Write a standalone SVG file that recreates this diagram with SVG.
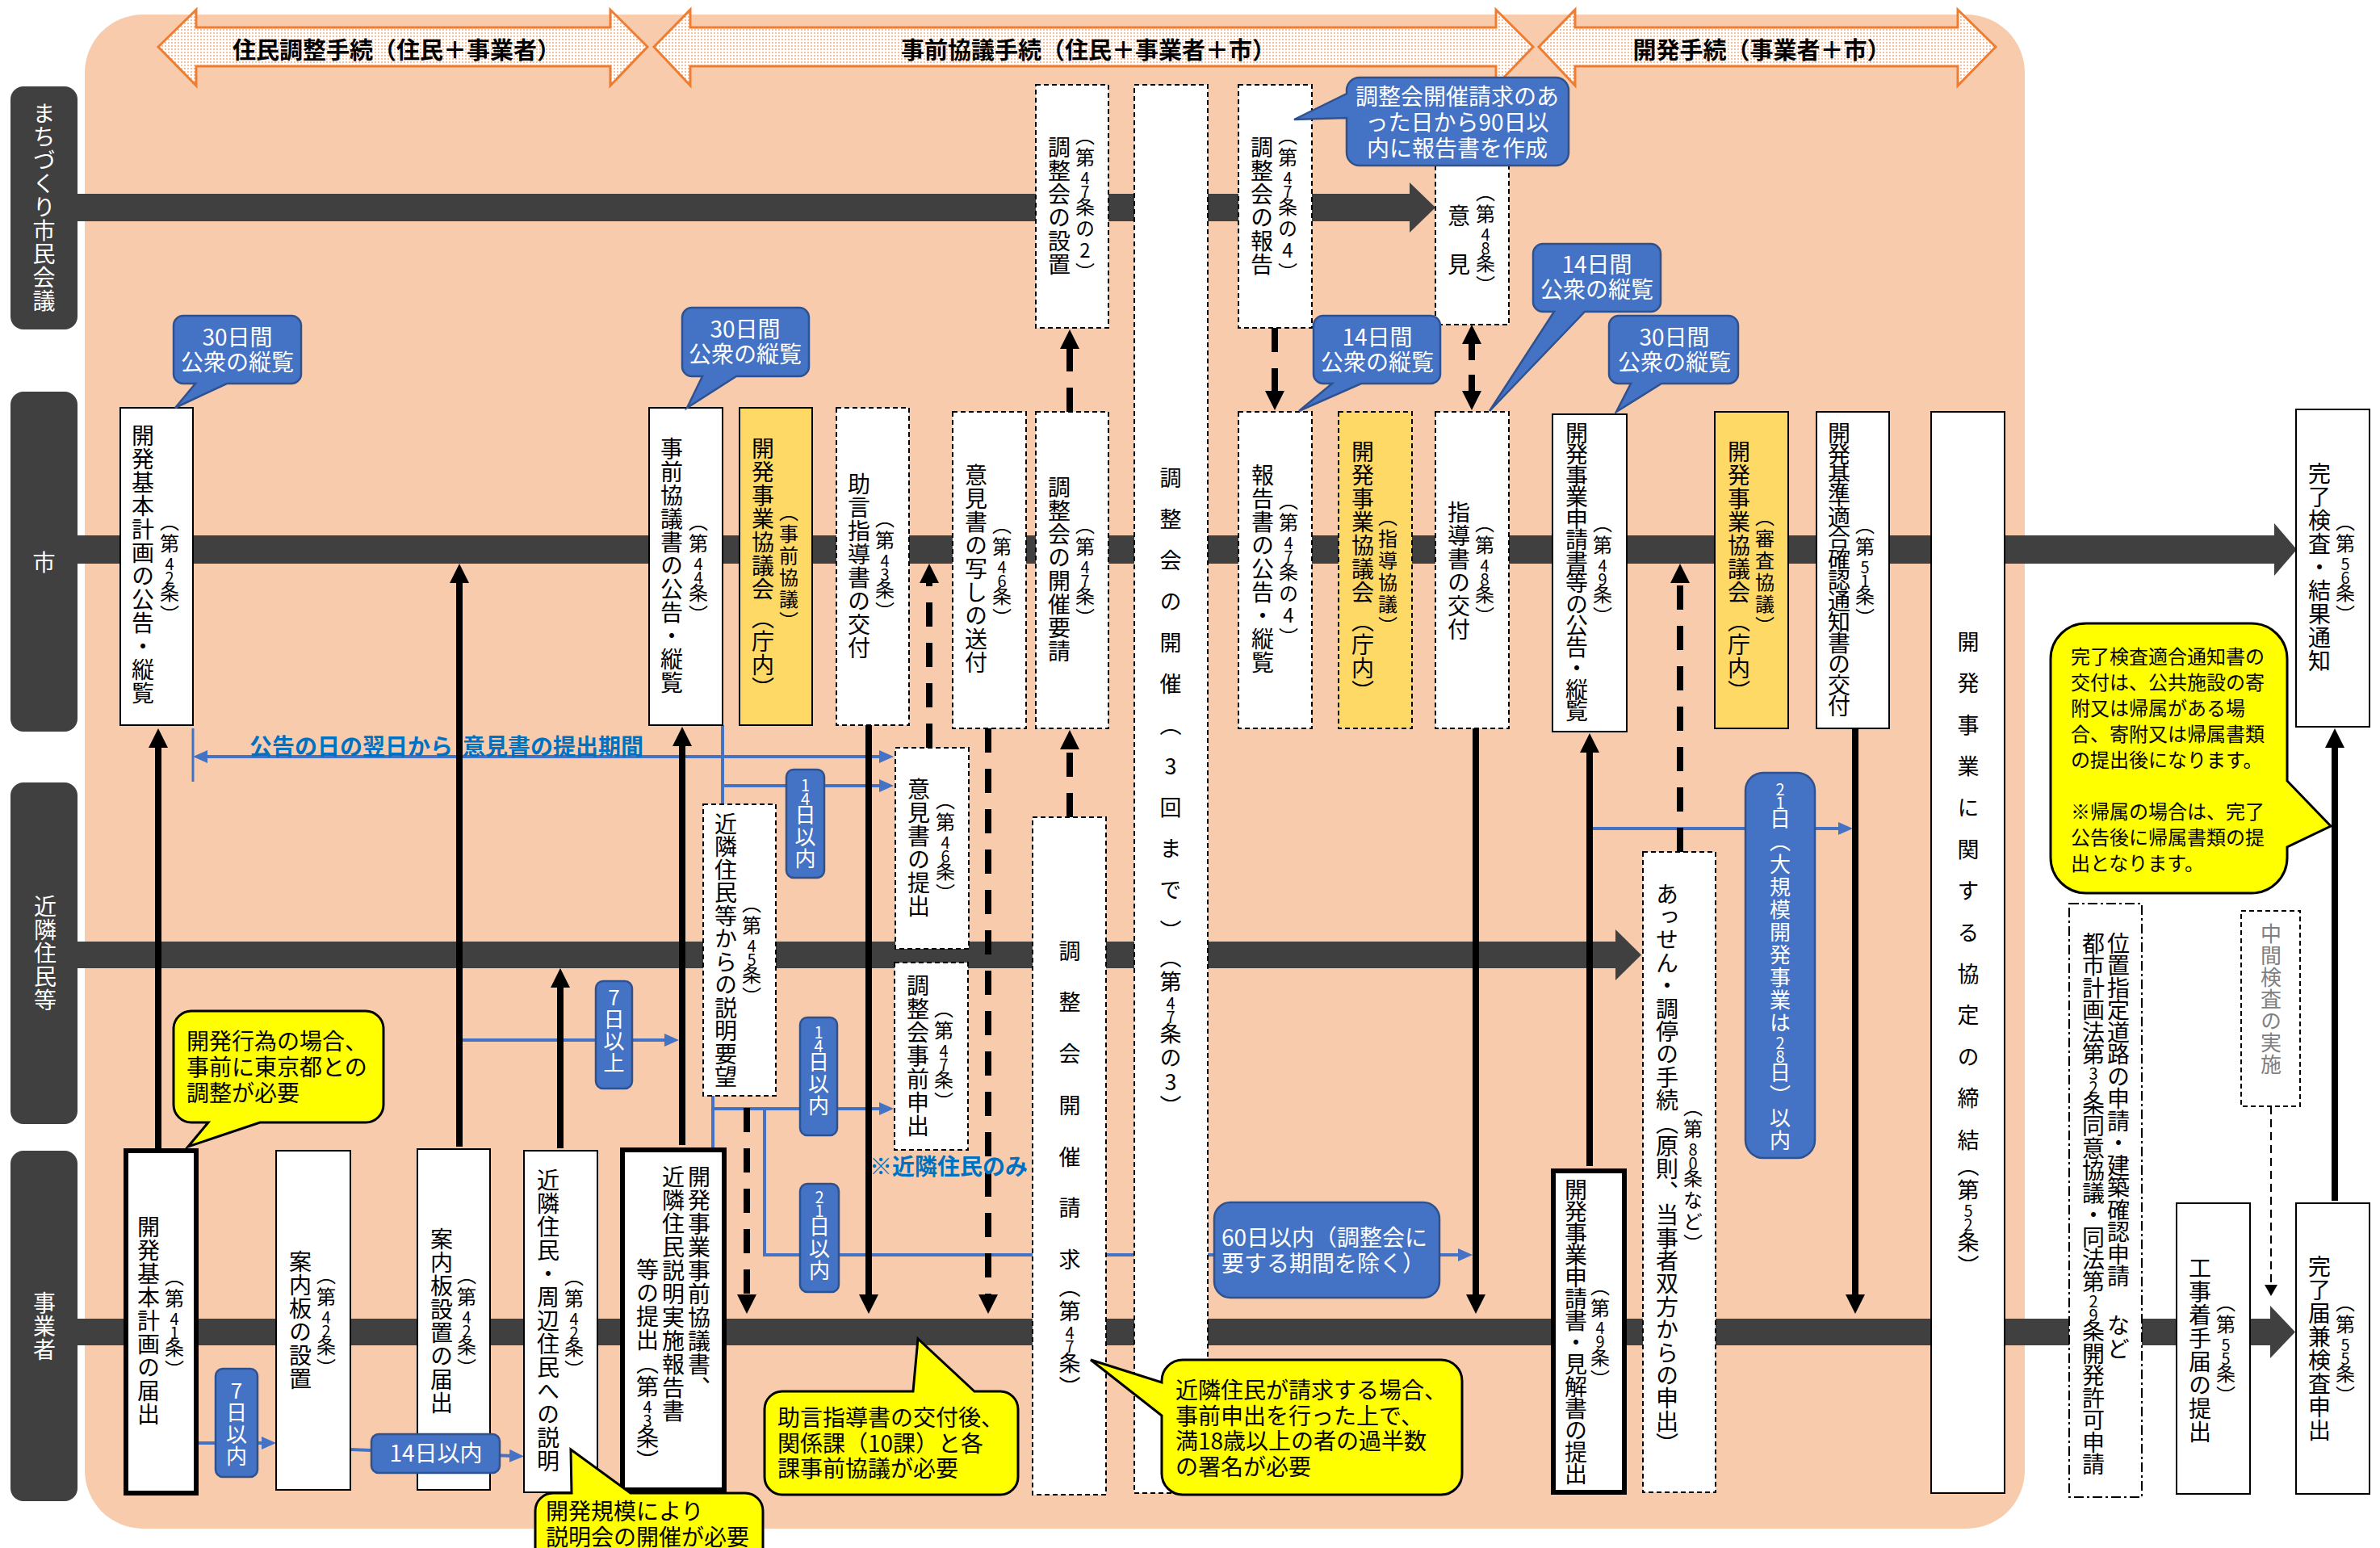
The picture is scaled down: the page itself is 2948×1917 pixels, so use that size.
<svg xmlns="http://www.w3.org/2000/svg" width="2948" height="1917" viewBox="0 0 2948 1917">
<defs>
<style>
.t{font-family:"Noto Sans CJK JP","Noto Sans CJK SC",sans-serif}
.v{writing-mode:vertical-rl;text-orientation:upright}
.m{font-size:28px;letter-spacing:1px}
.a{font-size:24px;letter-spacing:3px}
.dg{font-size:20px;letter-spacing:-3px}
.w{fill:#fff}
.lab{fill:#404040}
.lt{font-size:28px;letter-spacing:1px;fill:#fff}
.bar{fill:#404040}
.hd{fill:url(#dots);stroke:#ED7D31;stroke-width:3}
.ht{font-size:29px;font-weight:700;fill:#000}
.box{fill:#fff;stroke:#000;stroke-width:2}
.dbox{fill:#fff;stroke:#000;stroke-width:2;stroke-dasharray:6 4}
.tbox{fill:#fff;stroke:#000;stroke-width:6}
.ybox{fill:#FFD966;stroke:#000;stroke-width:2}
.ydbox{fill:#FFD966;stroke:#000;stroke-width:2;stroke-dasharray:6 4}
.ddbox{fill:#fff;stroke:#000;stroke-width:2;stroke-dasharray:12 4 3 4}
.ka{fill:none;stroke:#000;stroke-width:8;marker-end:url(#ha)}
.kd{fill:none;stroke:#000;stroke-width:8;stroke-dasharray:30 20;marker-end:url(#ha)}
.bl{fill:none;stroke:#4472C4;stroke-width:4}
.be{marker-end:url(#hb)}
.bc{fill:#4472C4;stroke:#2F528F;stroke-width:2.5}
.yc{fill:#FFFF00;stroke:#000;stroke-width:3}
.ct{font-size:28px}
.cs{font-size:24px}
.vl{font-size:26px;letter-spacing:1px;fill:#fff}
.bt{font-size:28px;font-weight:700;fill:#0070C0}
</style>
<pattern id="dots" width="4" height="4" patternUnits="userSpaceOnUse"><rect width="4" height="4" fill="#fff"/><rect width="2" height="2" fill="#F6C09C"/></pattern>
<marker id="ha" markerUnits="userSpaceOnUse" markerWidth="24" markerHeight="24" viewBox="0 0 24 24" refX="6" refY="12" orient="auto-start-reverse"><path d="M0,0 L24,12 L0,24 z" fill="#000"/></marker>
<marker id="hb" markerUnits="userSpaceOnUse" markerWidth="18" markerHeight="16" viewBox="0 0 18 16" refX="5" refY="8" orient="auto-start-reverse" preserveAspectRatio="none"><path d="M0,0 L18,8 L0,16 z" fill="#4472C4"/></marker>
<marker id="hs" markerUnits="userSpaceOnUse" markerWidth="14" markerHeight="16" viewBox="0 0 14 16" refX="2" refY="8" orient="auto" preserveAspectRatio="none"><path d="M0,0 L14,8 L0,16 z" fill="#000"/></marker>
</defs>

<rect x="0" y="0" width="2948" height="1917" fill="#fff"/>
<rect id="background" x="105" y="18" width="2403" height="1875" rx="72" fill="#F8CBAD"/>

<g id="phases">
<g id="phase-1"><polygon class="hd" points="196,58 243,12 243,34 756,34 756,12 802,58 756,106 756,82 243,82 243,106"/><text class="t ht" x="491" y="73" text-anchor="middle">住民調整手続（住民＋事業者）</text></g>
<g id="phase-2"><polygon class="hd" points="810,58 855,12 855,34 1853,34 1853,12 1899,58 1853,106 1853,82 855,82 855,106"/><text class="t ht" x="1348" y="73" text-anchor="middle">事前協議手続（住民＋事業者＋市）</text></g>
<g id="phase-3"><polygon class="hd" points="1906,58 1951,12 1951,34 2425,34 2425,12 2472,58 2425,106 2425,82 1951,82 1951,106"/><text class="t ht" x="2182" y="73" text-anchor="middle">開発手続（事業者＋市）</text></g>
</g>

<g id="lanes">
<g id="lane-machizukuri"><rect class="lab" x="13" y="107" width="83" height="301" rx="16"/><rect class="bar" x="90" y="240" width="1656" height="34"/><polygon class="bar" points="1746,226 1778,257 1746,288"/><text class="t v lt" x="54.5" y="126">まちづくり市民会議</text></g>
<g id="lane-shi"><rect class="lab" x="13" y="485" width="83" height="421" rx="16"/><rect class="bar" x="90" y="663" width="2727" height="35"/><polygon class="bar" points="2817,648 2845,680.5 2817,713"/><text class="t v lt" x="54.5" y="682">市</text></g>
<g id="lane-kinrin"><rect class="lab" x="13" y="969" width="83" height="423" rx="16"/><rect class="bar" x="90" y="1166" width="1911" height="33"/><polygon class="bar" points="2001,1151 2033,1182.5 2001,1214"/><text class="t v lt" x="56" y="1108">近隣住民等</text></g>
<g id="lane-jigyosha"><rect class="lab" x="13" y="1425" width="83" height="434" rx="16"/><rect class="bar" x="90" y="1633" width="2722" height="33"/><polygon class="bar" points="2812,1617 2843,1649.5 2812,1682"/><text class="t v lt" x="55" y="1599">事業者</text></g>
</g>

<g id="connectors">
<line class="bl" x1="239" y1="902" x2="239" y2="968" style="stroke-width:3"/>
<line class="bl" x1="252" y1="937" x2="1094" y2="937" style="marker-start:url(#hb);marker-end:url(#hb)"/>
<path class="bl be" d="M895,898 V996 M895,973 H1094"/>
<path class="bl be" d="M883,1357 V1422 M883,1373 H1094"/>
<path class="bl be" d="M947,1373 V1554 H1811"/>
<path class="bl be" d="M569,1288 H828"/>
<path class="bl be" d="M246,1787 H329"/>
<path class="bl be" d="M434,1795 L636,1803"/>
<path class="bl be" d="M1973,1026 H2282"/>

<line class="ka" x1="196" y1="1422" x2="196" y2="920"/>
<line class="ka" x1="569" y1="1420" x2="569" y2="716"/>
<line class="ka" x1="694" y1="1422" x2="694" y2="1217"/>
<line class="ka" x1="845" y1="1418" x2="845" y2="918"/>
<line class="ka" x1="1076" y1="898" x2="1076" y2="1609"/>
<line class="ka" x1="1828" y1="902" x2="1828" y2="1609"/>
<line class="ka" x1="1969" y1="1444" x2="1969" y2="926"/>
<line class="ka" x1="2298" y1="902" x2="2298" y2="1609"/>
<line class="ka" x1="2892" y1="1487" x2="2892" y2="920"/>

<line class="kd" x1="925" y1="1372" x2="925" y2="1609"/>
<line class="kd" x1="1151" y1="926" x2="1151" y2="716"/>
<line class="kd" x1="1224" y1="902" x2="1224" y2="1609"/>
<line class="kd" x1="1325" y1="1012" x2="1325" y2="922"/>
<line class="kd" x1="1325" y1="510" x2="1325" y2="426"/>
<line class="kd" x1="1579" y1="406" x2="1579" y2="490"/>
<line class="kd" x1="1823" y1="420" x2="1823" y2="490" style="marker-start:url(#ha);stroke-dasharray:26 18"/>
<line class="kd" x1="2081" y1="1055" x2="2081" y2="716"/>
<line x1="2813" y1="1370" x2="2813" y2="1593" style="stroke:#000;stroke-width:2;stroke-dasharray:10 6;marker-end:url(#hs)"/>
</g>

<g id="n-kihon-koukoku"><rect class="box" x="149" y="505" width="90" height="393"/><text class="t v"><tspan class="m" x="177" y="525">開発基本計画の公告・縦覧</tspan><tspan class="a" x="210" y="634">（第<tspan class="dg">42</tspan>条）</tspan></text></g>
<g id="n-jizen-koukoku"><rect class="box" x="804" y="505" width="91" height="393"/><text class="t v"><tspan class="m" x="832" y="541">事前協議書の公告・縦覧</tspan><tspan class="a" x="865" y="634">（第<tspan class="dg">44</tspan>条）</tspan></text></g>
<g id="n-kyougikai-jizen"><rect class="ybox" x="916" y="505" width="90" height="393"/><text class="t v"><tspan class="m" x="945" y="541">開発事業協議会</tspan><tspan class="a" x="977" y="622">（事前協議）</tspan><tspan class="m" x="945" y="751">（庁内）</tspan></text></g>
<g id="n-jogen"><rect class="dbox" x="1036" y="505" width="90" height="393"/><text class="t v"><tspan class="m" x="1064" y="585">助言指導書の交付</tspan><tspan class="a" x="1096" y="630">（第<tspan class="dg">43</tspan>条）</tspan></text></g>
<g id="n-utsushi"><rect class="dbox" x="1180" y="510" width="91" height="392"/><text class="t v"><tspan class="m" x="1209" y="574">意見書の写しの送付</tspan><tspan class="a" x="1241" y="638">（第<tspan class="dg">46</tspan>条）</tspan></text></g>
<g id="n-kaisai-yousei"><rect class="dbox" x="1283" y="510" width="90" height="392"/><text class="t v"><tspan class="m" x="1312" y="589">調整会の開催要請</tspan><tspan class="a" x="1344" y="638">（第<tspan class="dg">47</tspan>条）</tspan></text></g>
<g id="n-kaisai"><rect class="dbox" x="1405" y="105" width="91" height="1744"/><text class="t v"><tspan x="1450" y="578" style="font-size:27px;letter-spacing:24px">調整会の開催（3回まで）</tspan><tspan x="1450" y="1172" style="font-size:27px;letter-spacing:3px">（第<tspan class="dg">47</tspan>条の3）</tspan></text></g>
<g id="n-houkoku-koukoku"><rect class="dbox" x="1534" y="510" width="91" height="392"/><text class="t v"><tspan class="m" x="1564" y="574">報告書の公告・縦覧</tspan><tspan class="a" x="1596" y="608">（第<tspan class="dg">47</tspan>条の4）</tspan></text></g>
<g id="n-kyougikai-shidou"><rect class="ydbox" x="1658" y="510" width="91" height="392"/><text class="t v"><tspan class="m" x="1688" y="545">開発事業協議会</tspan><tspan class="a" x="1719" y="628">（指導協議）</tspan><tspan class="m" x="1688" y="755">（庁内）</tspan></text></g>
<g id="n-shidousho"><rect class="dbox" x="1778" y="510" width="91" height="392"/><text class="t v"><tspan class="m" x="1807" y="620">指導書の交付</tspan><tspan class="a" x="1839" y="636">（第<tspan class="dg">48</tspan>条）</tspan></text></g>
<g id="n-shinsei-koukoku"><rect class="box" x="1923" y="513" width="92" height="393"/><text class="t v"><tspan class="m" x="1953" y="522" style="letter-spacing:-1.5px">開発事業申請書等の公告・縦覧</tspan><tspan class="a" x="1985" y="636">（第<tspan class="dg">49</tspan>条）</tspan></text></g>
<g id="n-kyougikai-shinsa"><rect class="ybox" x="2124" y="510" width="91" height="392"/><text class="t v"><tspan class="m" x="2154" y="545">開発事業協議会</tspan><tspan class="a" x="2186" y="628">（審査協議）</tspan><tspan class="m" x="2154" y="755">（庁内）</tspan></text></g>
<g id="n-kijun"><rect class="box" x="2250" y="510" width="90" height="392"/><text class="t v"><tspan class="m" x="2278" y="522" style="letter-spacing:-2px">開発基準適合確認通知書の交付</tspan><tspan class="a" x="2310" y="638">（第<tspan class="dg">51</tspan>条）</tspan></text></g>
<g id="n-kyoutei"><rect class="box" x="2392" y="510" width="91" height="1339"/><text class="t v"><tspan x="2438" y="781" style="font-size:27px;letter-spacing:24.4px">開発事業に関する協定の締結</tspan><tspan x="2438" y="1430" style="font-size:27px;letter-spacing:3px">（第<tspan class="dg">52</tspan>条）</tspan></text></g>
<g id="n-kanryou-tsuchi"><rect class="box" x="2844" y="507" width="91" height="393"/><text class="t v"><tspan class="m" x="2873" y="572">完了検査・結果通知</tspan><tspan class="a" x="2905" y="634">（第<tspan class="dg">56</tspan>条）</tspan></text></g>

<g id="n-secchi"><rect class="dbox" x="1283" y="105" width="90" height="301"/><text class="t v"><tspan class="m" x="1312" y="168">調整会の設置</tspan><tspan class="a" x="1344" y="156">（第<tspan class="dg">47</tspan>条の2）</tspan></text></g>
<g id="n-houkoku"><rect class="dbox" x="1534" y="105" width="91" height="301"/><text class="t v"><tspan class="m" x="1563" y="168">調整会の報告</tspan><tspan class="a" x="1595" y="156">（第<tspan class="dg">47</tspan>条の4）</tspan></text></g>
<g id="n-iken"><rect class="dbox" x="1778" y="105" width="91" height="297"/><text class="t v"><tspan x="1807" y="253" style="font-size:28px;letter-spacing:32px">意見</tspan><tspan class="a" x="1840" y="226">（第<tspan class="dg">48</tspan>条）</tspan></text></g>

<g id="n-ikensho-teishutsu"><rect class="dbox" x="1109" y="926" width="91" height="249"/><text class="t v"><tspan class="m" x="1138" y="963">意見書の提出</tspan><tspan class="a" x="1171" y="979">（第<tspan class="dg">46</tspan>条）</tspan></text></g>
<g id="n-jizen-moushide"><rect class="dbox" x="1108" y="1192" width="91" height="232"/><text class="t v"><tspan class="m" x="1137" y="1206">調整会事前申出</tspan><tspan class="a" x="1169" y="1237">（第<tspan class="dg">47</tspan>条）</tspan></text></g>
<g id="n-setsumei-youbou"><rect class="dbox" x="871" y="996" width="90" height="361"/><text class="t v"><tspan class="m" x="899" y="1006" style="letter-spacing:0.5px">近隣住民等からの説明要望</tspan><tspan class="a" x="931" y="1107">（第<tspan class="dg">45</tspan>条）</tspan></text></g>
<g id="n-kaisai-seikyu"><rect class="dbox" x="1279" y="1012" width="91" height="839"/><text class="t v"><tspan x="1325" y="1164" style="font-size:27px;letter-spacing:36.7px">調整会開催請求</tspan><tspan x="1325" y="1580" style="font-size:27px;letter-spacing:3px">（第<tspan class="dg">47</tspan>条）</tspan></text></g>
<g id="n-assen"><rect class="dbox" x="2035" y="1055" width="90" height="793"/><text class="t v"><tspan class="m" x="2065" y="1093" style="letter-spacing:0.4px">あっせん・調停の手続（原則、当事者双方からの申出）</tspan><tspan class="a" x="2097" y="1359">（第<tspan class="dg">80</tspan>条など）</tspan></text></g>

<g id="n-kihon-todokede"><rect class="tbox" x="156" y="1425" width="87" height="424"/><text class="t v"><tspan class="m" x="184" y="1505">開発基本計画の届出</tspan><tspan class="a" x="216" y="1569">（第<tspan class="dg">41</tspan>条）</tspan></text></g>
<g id="n-annaiban"><rect class="box" x="342" y="1425" width="92" height="420"/><text class="t v"><tspan class="m" x="372" y="1548">案内板の設置</tspan><tspan class="a" x="404" y="1567">（第<tspan class="dg">42</tspan>条）</tspan></text></g>
<g id="n-annaiban-todokede"><rect class="box" x="517" y="1423" width="90" height="422"/><text class="t v"><tspan class="m" x="547" y="1520">案内板設置の届出</tspan><tspan class="a" x="578" y="1567">（第<tspan class="dg">42</tspan>条）</tspan></text></g>
<g id="n-setsumei"><rect class="box" x="649" y="1425" width="91" height="423"/><text class="t v"><tspan class="m" x="679" y="1447">近隣住民・周辺住民への説明</tspan><tspan class="a" x="711" y="1569">（第<tspan class="dg">42</tspan>条）</tspan></text></g>
<g id="n-jizen-teishutsu"><rect class="tbox" x="771" y="1424" width="126" height="421"/><text class="t v"><tspan class="m" x="866" y="1443">開発事業事前協議書、</tspan><tspan class="m" x="834" y="1443">近隣住民説明実施報告書</tspan><tspan class="m" x="802" y="1558">等の提出（第<tspan class="dg">43</tspan>条）</tspan></text></g>
<g id="n-shinsei"><rect class="tbox" x="1924" y="1450" width="88" height="398"/><text class="t v"><tspan class="m" x="1952" y="1459" style="letter-spacing:-0.9px">開発事業申請書・見解書の提出</tspan><tspan class="a" x="1982" y="1581">（第<tspan class="dg">49</tspan>条）</tspan></text></g>
<g id="n-ichishitei"><rect class="ddbox" x="2563" y="1119" width="90" height="735"/><text class="t v"><tspan class="m" x="2624" y="1154" style="letter-spacing:-0.5px">位置指定道路の申請・建築確認申請</tspan><tspan class="m" x="2593" y="1154" style="letter-spacing:-0.5px">都市計画法第<tspan class="dg">32</tspan>条同意協議・同法第<tspan class="dg">29</tspan>条開発許可申請</tspan><tspan class="m" x="2624" y="1627">など</tspan></text></g>
<g id="n-chukan"><rect class="dbox" x="2776" y="1128" width="73" height="242"/><text class="t v" x="2813" y="1143" style="font-size:26px;letter-spacing:1px;fill:#7F7F7F">中間検査の実施</text></g>
<g id="n-chakushu"><rect class="box" x="2696" y="1490" width="91" height="360"/><text class="t v"><tspan class="m" x="2725" y="1556">工事着手届の提出</tspan><tspan class="a" x="2757" y="1601">（第<tspan class="dg">55</tspan>条）</tspan></text></g>
<g id="n-kanryou-todoke"><rect class="box" x="2844" y="1490" width="91" height="360"/><text class="t v"><tspan class="m" x="2873" y="1554">完了届兼検査申出</tspan><tspan class="a" x="2905" y="1601">（第<tspan class="dg">55</tspan>条）</tspan></text></g>

<g id="period-labels">
<rect class="bc" x="974" y="953" width="47" height="134" rx="9"/><text class="t v vl" x="997.5" y="962"><tspan class="dg">14</tspan>日以内</text>
<rect class="bc" x="991" y="1260" width="46" height="146" rx="9"/><text class="t v vl" x="1014" y="1268"><tspan class="dg">14</tspan>日以内</text>
<rect class="bc" x="991" y="1466" width="48" height="134" rx="9"/><text class="t v vl" x="1015" y="1472"><tspan class="dg">21</tspan>日以内</text>
<rect class="bc" x="738" y="1215" width="45" height="133" rx="9"/><text class="t v vl" x="760.5" y="1222">7日以上</text>
<rect class="bc" x="267" y="1695" width="52" height="134" rx="9"/><text class="t v vl" x="293" y="1709">7日以内</text>
<rect class="bc" x="460" y="1776" width="159" height="48" rx="9"/><text class="t ct w" x="540" y="1810" text-anchor="middle">14日以内</text>
<rect class="bc" x="1504" y="1489" width="279" height="118" rx="20"/><text class="t ct w"><tspan x="1513" y="1543">60日以内（調整会に</tspan><tspan x="1513" y="1575">要する期間を除く）</tspan></text>
<rect class="bc" x="2162" y="957" width="86" height="477" rx="22"/><text class="t v vl" x="2205" y="967" style="letter-spacing:2px"><tspan class="dg">21</tspan>日（大規模開発事業は<tspan class="dg">28</tspan>日）以内</text>
<text class="t bt" x="309" y="935">公告の日の翌日から<tspan dx="12">意見書の提出期間</tspan></text>
<text class="t bt" x="1077" y="1455">※近隣住民のみ</text>
</g>

<g id="callouts-blue">
<g id="c-30a"><path class="bc" d="M227,391 H361 A12,12 0 0 1 373,403 V463 A12,12 0 0 1 361,475 H281 L217,505 L242,475 H227 A12,12 0 0 1 215,463 V403 A12,12 0 0 1 227,391 Z"/><text class="t ct w" text-anchor="middle"><tspan x="294" y="428">30日間</tspan><tspan x="294" y="459">公衆の縦覧</tspan></text></g>
<g id="c-30b"><path class="bc" d="M857,381 H990 A12,12 0 0 1 1002,393 V454 A12,12 0 0 1 990,466 H912 L851,505 L870,466 H857 A12,12 0 0 1 845,454 V393 A12,12 0 0 1 857,381 Z"/><text class="t ct w" text-anchor="middle"><tspan x="923" y="418">30日間</tspan><tspan x="923" y="449">公衆の縦覧</tspan></text></g>
<g id="c-90"><path class="bc" d="M1684,96 H1927 A16,16 0 0 1 1943,112 V189 A16,16 0 0 1 1927,205 H1684 A16,16 0 0 1 1668,189 V146 L1603,148 L1668,116 V112 A16,16 0 0 1 1684,96 Z"/><text class="t ct w" text-anchor="middle"><tspan x="1805" y="130">調整会開催請求のあ</tspan><tspan x="1805" y="162">った日から90日以</tspan><tspan x="1805" y="194">内に報告書を作成</tspan></text></g>
<g id="c-14a"><path class="bc" d="M1639,391 H1772 A12,12 0 0 1 1784,403 V463 A12,12 0 0 1 1772,475 H1686 L1609,509 L1650,475 H1639 A12,12 0 0 1 1627,463 V403 A12,12 0 0 1 1639,391 Z"/><text class="t ct w" text-anchor="middle"><tspan x="1706" y="428">14日間</tspan><tspan x="1706" y="459">公衆の縦覧</tspan></text></g>
<g id="c-14b"><path class="bc" d="M1911,302 H2045 A12,12 0 0 1 2057,314 V374 A12,12 0 0 1 2045,386 H1963 L1845,509 L1925,386 H1911 A12,12 0 0 1 1899,374 V314 A12,12 0 0 1 1911,302 Z"/><text class="t ct w" text-anchor="middle"><tspan x="1978" y="338">14日間</tspan><tspan x="1978" y="369">公衆の縦覧</tspan></text></g>
<g id="c-30c"><path class="bc" d="M2005,391 H2141 A12,12 0 0 1 2153,403 V463 A12,12 0 0 1 2141,475 H2058 L2002,510 L2020,475 H2005 A12,12 0 0 1 1993,463 V403 A12,12 0 0 1 2005,391 Z"/><text class="t ct w" text-anchor="middle"><tspan x="2074" y="428">30日間</tspan><tspan x="2074" y="459">公衆の縦覧</tspan></text></g>
</g>

<g id="callouts-yellow">
<g id="y-tokyo"><path class="yc" d="M237,1252 H453 A22,22 0 0 1 475,1274 V1368 A22,22 0 0 1 453,1390 H322 L233,1420 L258,1390 H237 A22,22 0 0 1 215,1368 V1274 A22,22 0 0 1 237,1252 Z"/><text class="t ct"><tspan x="231" y="1300">開発行為の場合、</tspan><tspan x="231" y="1332">事前に東京都との</tspan><tspan x="231" y="1364">調整が必要</tspan></text></g>
<g id="y-setsumeikai"><path class="yc" d="M685,1849 H708 L707,1795 L781,1849 H923 A22,22 0 0 1 945,1871 V1935 H663 V1871 A22,22 0 0 1 685,1849 Z"/><text class="t ct"><tspan x="676" y="1882">開発規模により</tspan><tspan x="676" y="1914">説明会の開催が必要</tspan></text></g>
<g id="y-kankeika"><path class="yc" d="M969,1723 H1131 L1137,1658 L1207,1723 H1239 A22,22 0 0 1 1261,1745 V1829 A22,22 0 0 1 1239,1851 H969 A22,22 0 0 1 947,1829 V1745 A22,22 0 0 1 969,1723 Z"/><text class="t ct"><tspan x="963" y="1766">助言指導書の交付後、</tspan><tspan x="963" y="1798">関係課（10課）と各</tspan><tspan x="963" y="1829">課事前協議が必要</tspan></text></g>
<g id="y-shomei"><path class="yc" d="M1465,1684 H1785 A26,26 0 0 1 1811,1710 V1825 A26,26 0 0 1 1785,1851 H1465 A26,26 0 0 1 1439,1825 V1753 L1351,1684 L1439,1712 V1710 A26,26 0 0 1 1465,1684 Z"/><text class="t ct"><tspan x="1456" y="1732">近隣住民が請求する場合、</tspan><tspan x="1456" y="1764">事前申出を行った上で、</tspan><tspan x="1456" y="1795">満18歳以上の者の過半数</tspan><tspan x="1456" y="1827">の署名が必要</tspan></text></g>
<g id="y-kizoku"><path class="yc" d="M2584,772 H2789 A44,44 0 0 1 2833,816 V967 L2887,1023 L2833,1049 V1062 A44,44 0 0 1 2789,1106 H2584 A44,44 0 0 1 2540,1062 V816 A44,44 0 0 1 2584,772 Z"/><text class="t cs"><tspan x="2565" y="822">完了検査適合通知書の</tspan><tspan x="2565" y="854">交付は、公共施設の寄</tspan><tspan x="2565" y="886">附又は帰属がある場</tspan><tspan x="2565" y="918">合、寄附又は帰属書類</tspan><tspan x="2565" y="950">の提出後になります。</tspan><tspan x="2565" y="1014">※帰属の場合は、完了</tspan><tspan x="2565" y="1046">公告後に帰属書類の提</tspan><tspan x="2565" y="1078">出となります。</tspan></text></g>
</g>
</svg>
